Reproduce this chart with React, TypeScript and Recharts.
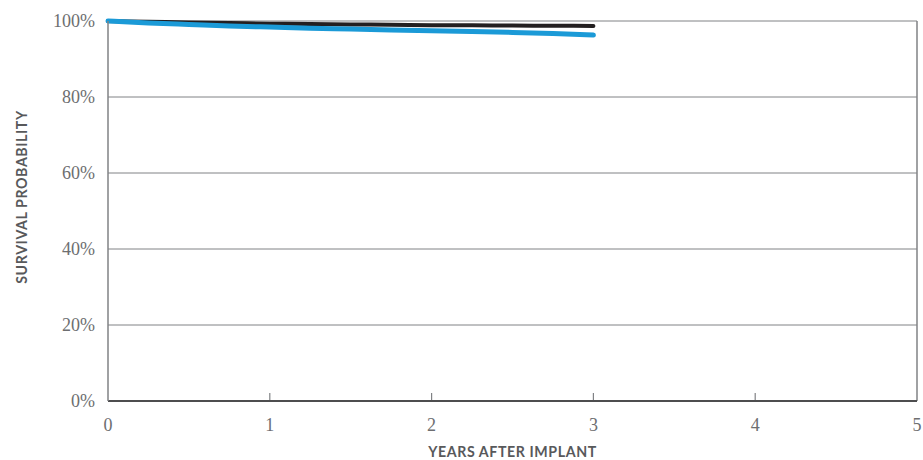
import { CartesianGrid, Line, LineChart, ReferenceLine, XAxis, YAxis } from "recharts";

const years = [0, 0.25, 0.5, 0.75, 1, 1.25, 1.5, 1.75, 2, 2.25, 2.5, 2.75, 3];
const blackSeries = [100, 99.8, 99.6, 99.45, 99.3, 99.2, 99.1, 99.0, 98.9, 98.85, 98.8, 98.75, 98.7];
const blueSeries = [100, 99.5, 99.1, 98.7, 98.4, 98.1, 97.9, 97.65, 97.45, 97.25, 97.0, 96.7, 96.3];
const xTicks = [0, 1, 2, 3, 4, 5];
const yTicks = [0, 20, 40, 60, 80, 100];
const innerTicks = [1, 2, 3, 4];

const chartData = years.map((year, i) => ({ year, black: blackSeries[i], blue: blueSeries[i] }));

const tickStyle = { fill: "#6d6e70", fontSize: 18, fontFamily: "'Liberation Serif', 'DejaVu Serif', serif" };
const titleStyle = { fill: "#58595b", fontSize: 14.2, fontWeight: 700, fontFamily: "Lato, 'Open Sans', sans-serif", letterSpacing: 0.6 };

const App = () => {
  return (
    <div style={{ position: "absolute", left: 0, top: 0, background: "#fff" }}>
      <LineChart width={923} height={460} data={chartData} margin={{ top: 21, right: 6, bottom: 0, left: 0 }}>
        <CartesianGrid vertical={false} horizontalValues={yTicks} stroke="#808285" strokeWidth={1} />
        <XAxis
          dataKey="year"
          type="number"
          domain={[0, 5]}
          ticks={xTicks}
          height={59}
          tickLine={false}
          axisLine={{ stroke: "#4d4d4f", strokeWidth: 2 }}
          tick={tickStyle}
          tickMargin={11}
          label={{ value: "YEARS AFTER IMPLANT", position: "insideBottom", offset: 3, style: titleStyle }}
        />
        <YAxis
          type="number"
          domain={[0, 100]}
          ticks={yTicks}
          width={108}
          tickLine={false}
          axisLine={{ stroke: "#808285", strokeWidth: 1.5 }}
          tick={tickStyle}
          tickMargin={7}
          tickFormatter={(v: number) => `${v}%`}
          label={{
            content: () => (
              <text x={21} y={197} transform="rotate(-90 21 197)" textAnchor="middle" dominantBaseline="central" style={titleStyle}>
                SURVIVAL PROBABILITY
              </text>
            ),
          }}
        />
        <ReferenceLine x={5} stroke="#808285" strokeWidth={1.5} />
        {innerTicks.map((t) => (
          <ReferenceLine key={t} segment={[{ x: t, y: 0 }, { x: t, y: 2.1 }]} stroke="#808285" strokeWidth={1.2} />
        ))}
        <Line type="monotone" dataKey="black" stroke="#231f20" strokeWidth={4} dot={false} strokeLinecap="round" isAnimationActive={false} />
        <Line type="monotone" dataKey="blue" stroke="#1b9ad7" strokeWidth={5} dot={false} strokeLinecap="round" isAnimationActive={false} />
      </LineChart>
    </div>
  );
};

export default App;
